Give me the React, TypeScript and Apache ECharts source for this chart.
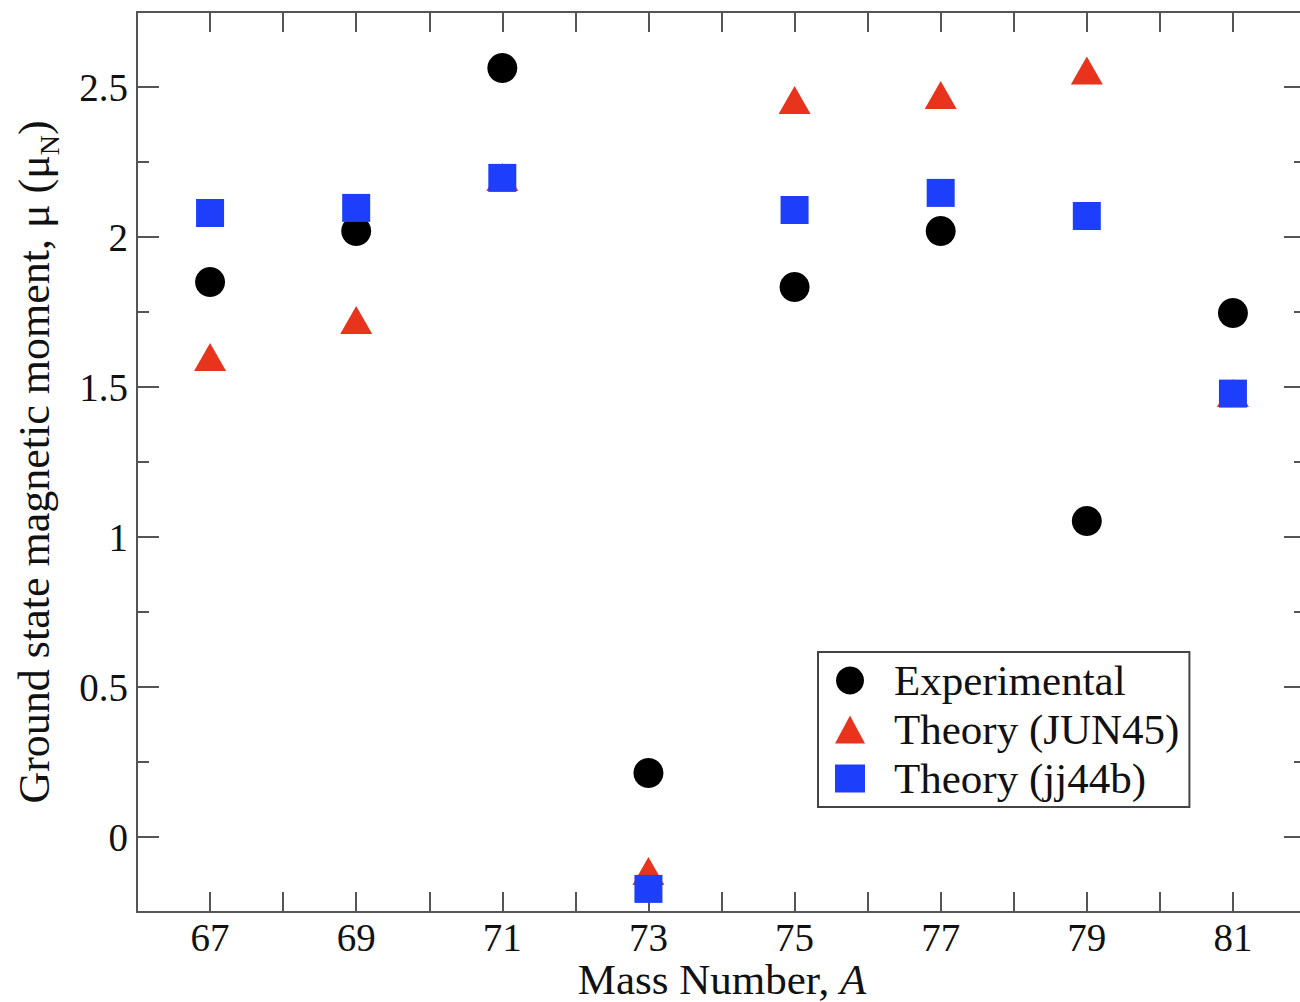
import React, { useEffect, useRef } from "react";
import * as echarts from "echarts";

const massNumbers = [67, 69, 71, 73, 75, 77, 79, 81];
const experimental = [1.85, 2.02, 2.563, 0.213, 1.833, 2.02, 1.053, 1.747];
const jun45 = [1.6, 1.723, 2.2, -0.113, 2.457, 2.473, 2.555, 1.48];
const jj44b = [2.08, 2.097, 2.197, -0.173, 2.09, 2.147, 2.07, 1.478];
const yMajorTicks = [0, 0.5, 1, 1.5, 2, 2.5];
const xLabelValues = [67, 69, 71, 73, 75, 77, 79, 81];

const FONT = "'Liberation Serif', 'Times New Roman', serif";
const AXIS_COLOR = "#555";
const TEXT = "#111";
const RED = "#e8341c";
const BLUE = "#1d3ffb";

function pairs(ys: number[]) {
  return massNumbers.map((x, i) => [x, ys[i]]);
}

export default function App() {
  const ref = useRef<HTMLDivElement>(null);
  useEffect(() => {
    if (!ref.current) return;
    const chart = echarts.init(ref.current, undefined, { renderer: "svg" });
    const lineStyle = { color: AXIS_COLOR, width: 2 };
    const xBase = {
      type: "value" as const,
      min: 66,
      max: 82,
      interval: 1,
      splitLine: { show: false },
      axisLine: { show: true, onZero: false, lineStyle },
      axisTick: { show: true, inside: true, length: 20, lineStyle },
    };
    const yBase = {
      type: "value" as const,
      min: -0.25,
      max: 2.75,
      interval: 0.25,
      splitLine: { show: false },
    };
    chart.setOption({
      animation: false,
      backgroundColor: "#fff",
      grid: {
        left: 137,
        top: 12,
        width: 1169,
        height: 900,
        containLabel: false,
        outerBoundsMode: "none",
      },
      graphic: [
        {
          type: "text",
          x: 722,
          y: 979,
          style: {
            text: "Mass Number, {i|A}",
            align: "center",
            verticalAlign: "middle",
            fontFamily: FONT,
            fontSize: 43,
            fill: TEXT,
            rich: {
              i: { fontFamily: FONT, fontSize: 43, fontStyle: "italic", fill: TEXT, color: TEXT },
            },
          },
        },
      ],
      xAxis: [
        {
          ...xBase,
          position: "bottom",
          axisLabel: {
            show: true,
            margin: 6,
            fontFamily: FONT,
            fontSize: 39,
            color: TEXT,
            formatter: (v: number) => (xLabelValues.includes(v) ? String(v) : ""),
          },
        },
        {
          ...xBase,
          position: "top",
          axisLabel: { show: false },
        },
      ],
      yAxis: [
        {
          ...yBase,
          position: "left",
          name: "{m|Ground state magnetic moment, μ (μ}{sub|N}{m|)}",
          nameLocation: "middle",
          nameGap: 74,
          nameTextStyle: {
            fontFamily: FONT,
            fontSize: 44,
            color: TEXT,
            rich: {
              m: { fontFamily: FONT, fontSize: 44, color: TEXT, verticalAlign: "middle" },
              sub: {
                fontFamily: FONT,
                fontSize: 28,
                color: TEXT,
                verticalAlign: "middle",
                padding: [30, 0, 0, 0],
              },
            },
          },
          axisLine: { show: true, onZero: false, lineStyle },
          axisTick: { show: true, inside: true, length: 22, lineStyle, customValues: yMajorTicks },
          axisLabel: {
            show: true,
            margin: 9,
            fontFamily: FONT,
            fontSize: 39,
            color: TEXT,
            customValues: yMajorTicks,
            formatter: (v: number) => String(v),
          },
        },
        {
          ...yBase,
          position: "left",
          axisLine: { show: false },
          axisTick: { show: true, inside: true, length: 12, lineStyle },
          axisLabel: { show: false },
        },
        {
          ...yBase,
          position: "right",
          axisLine: { show: true, onZero: false, lineStyle },
          axisTick: { show: true, inside: true, length: 22, lineStyle, customValues: yMajorTicks },
          axisLabel: { show: false },
        },
        {
          ...yBase,
          position: "right",
          axisLine: { show: false },
          axisTick: { show: true, inside: true, length: 12, lineStyle },
          axisLabel: { show: false },
        },
      ],
      legend: {
        orient: "vertical",
        left: 818,
        top: 652,
        padding: [7, 10, 7, 17],
        itemGap: 6,
        itemWidth: 30,
        itemHeight: 28,
        borderColor: "#444",
        borderWidth: 2,
        backgroundColor: "#fff",
        borderRadius: 0,
        textStyle: {
          fontFamily: FONT,
          fontSize: 43,
          lineHeight: 40,
          color: TEXT,
          padding: [0, 0, 0, 24],
        },
        data: [
          { name: "Experimental", icon: "circle" },
          { name: "Theory (JUN45)", icon: "triangle" },
          { name: "Theory (jj44b)", icon: "rect" },
        ],
      },
      series: [
        {
          name: "Experimental",
          type: "scatter",
          data: pairs(experimental),
          symbol: "circle",
          symbolSize: 30,
          itemStyle: { color: "#000", opacity: 1 },
        },
        {
          name: "Theory (JUN45)",
          type: "scatter",
          data: pairs(jun45),
          symbol: "triangle",
          symbolSize: [32, 28],
          itemStyle: { color: RED, opacity: 1 },
        },
        {
          name: "Theory (jj44b)",
          type: "scatter",
          data: pairs(jj44b),
          symbol: "rect",
          symbolSize: 28,
          itemStyle: { color: BLUE, opacity: 1 },
        },
      ],
    });
    return () => chart.dispose();
  }, []);
  return (
    <div
      style={{
        position: "fixed",
        left: 0,
        top: 0,
        width: 1300,
        height: 1002,
        overflow: "hidden",
        background: "#fff",
      }}
    >
      <div ref={ref} style={{ width: 1320, height: 1002 }} />
    </div>
  );
}
